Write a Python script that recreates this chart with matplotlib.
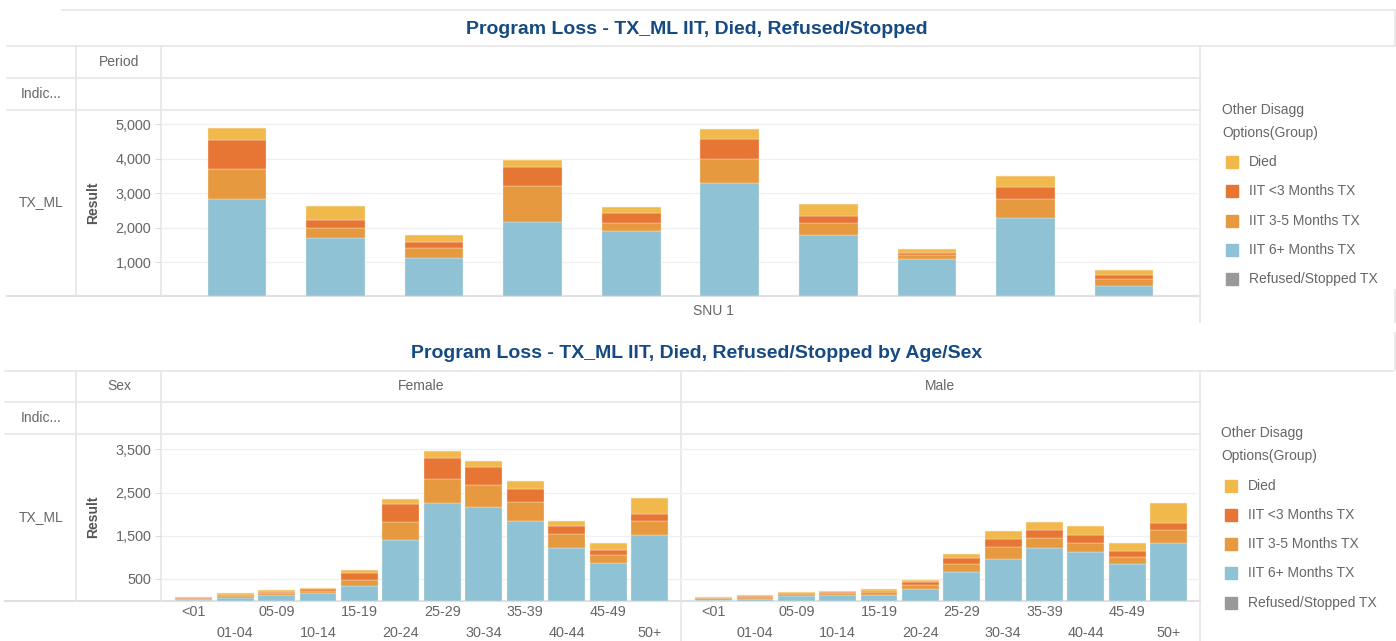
import matplotlib
matplotlib.use("Agg")
import matplotlib.pyplot as plt
from matplotlib.lines import Line2D
import numpy as np

plt.rcParams['font.family'] = ['Liberation Sans', 'DejaVu Sans']

# ---------------- data ----------------
series_names = ["Died", "IIT <3 Months TX", "IIT 3-5 Months TX", "IIT 6+ Months TX", "Refused/Stopped TX"]
series_colors = ["#F1B94B", "#E77635", "#E6993E", "#90C2D5", "#999999"]

# top chart: 10 periods (labels hidden in the original)
periods = list(range(1, 11))
top_6plus = [2824, 1700, 1115, 2163, 1892, 3298, 1776, 1077, 2290, 300]
top_3to5 = [870, 280, 282, 1059, 242, 690, 349, 126, 543, 195]
top_lt3 = [860, 235, 195, 553, 282, 592, 204, 69, 350, 116]
top_died = [340, 425, 193, 184, 184, 282, 349, 116, 310, 155]
top_refused = [0] * 10
top_yticks = [1000, 2000, 3000, 4000, 5000]

# bottom chart: age groups by sex
age_groups = ["<01", "01-04", "05-09", "10-14", "15-19", "20-24",
              "25-29", "30-34", "35-39", "40-44", "45-49", "50+"]
f_6plus = [10, 50, 120, 166, 342, 1389, 2250, 2158, 1850, 1204, 865, 1512]
f_3to5 = [35, 50, 55, 65, 131, 430, 554, 523, 431, 338, 185, 338]
f_lt3 = [10, 35, 30, 30, 154, 415, 500, 407, 308, 185, 123, 154]
f_died = [25, 30, 30, 35, 69, 108, 146, 147, 184, 123, 154, 369]
f_refused = [0] * 12
m_6plus = [10, 35, 104, 134, 134, 258, 650, 958, 1204, 1112, 835, 1327]
m_3to5 = [40, 55, 45, 40, 60, 100, 192, 277, 246, 215, 169, 300]
m_lt3 = [5, 10, 15, 20, 30, 61, 139, 184, 185, 185, 138, 178]
m_died = [25, 35, 32, 32, 34, 62, 107, 185, 192, 223, 193, 453]
m_refused = [0] * 12
bottom_yticks = [500, 1500, 2500, 3500]

title_top = "Program Loss - TX_ML IIT, Died, Refused/Stopped"
title_bottom = "Program Loss - TX_ML IIT, Died, Refused/Stopped by Age/Sex"

# ---------------- layout helpers ----------------
W, H = 1396, 641
fig = plt.figure(figsize=(W / 100, H / 100), dpi=100)
fig.patch.set_facecolor("white")

def fx(x):
    return x / W

def fy(y):
    return 1 - y / H

def hline(y, x0, x1, color="#E6E6E6", lw=1.2):
    fig.add_artist(Line2D([fx(x0), fx(x1)], [fy(y), fy(y)], color=color, lw=lw,
                          transform=fig.transFigure, zorder=0))

def vline(x, y0, y1, color="#E6E6E6", lw=1.2):
    fig.add_artist(Line2D([fx(x), fx(x)], [fy(y0), fy(y1)], color=color, lw=lw,
                          transform=fig.transFigure, zorder=0))

def add_ax(x0, y0, x1, y1):
    return fig.add_axes([fx(x0), fy(y1), fx(x1) - fx(x0), (y1 - y0) / H])

TXT = "#666666"
TITLE_C = "#154B82"

def txt(x, y, s, **kw):
    d = dict(fontsize=10, color=TXT, va="center", ha="left")
    d.update(kw)
    fig.text(fx(x), fy(y), s, **d)

def stack(ax, x, layers, width):
    bottom = np.zeros(len(x))
    for vals, col in layers:
        vals = np.asarray(vals, dtype=float)
        ax.bar(x, vals, width=width, bottom=bottom, color=col,
               edgecolor="#FBEFE0", linewidth=0.25, zorder=3)
        bottom += vals

def style_pane(ax, ymax, yticks, show_labels=True):
    ax.set_ylim(0, ymax)
    ax.set_yticks(yticks)
    if show_labels:
        ax.set_yticklabels([f"{v:,}" for v in yticks], fontsize=10.4, color=TXT)
        ax.tick_params(axis="y", length=4, color="#DDDDDD", pad=3)
    else:
        ax.set_yticklabels([])
        ax.tick_params(axis="y", length=0)
    ax.grid(axis="y", color="#F0F0F0", lw=1, zorder=0)
    for s in ax.spines.values():
        s.set_visible(False)
    ax.set_facecolor("none")

def legend(x, y_title, y_first, step):
    txt(x - 2, y_title, "Other Disagg", fontsize=10)
    txt(x - 2, y_title + 22.5, "Options(Group)", fontsize=10)
    for i, (n, c) in enumerate(zip(series_names, series_colors)):
        yy = y_first + i * step
        fig.add_artist(plt.Rectangle((fx(x + 2), fy(yy + 6)), 12 / W, 12 / H,
                                     color=c, transform=fig.transFigure))
        txt(x + 25, yy, n, fontsize=10)

# ---------------- top sheet ----------------
hline(9.5, 62, 1395)
vline(1395, 9.5, 45)
hline(45.5, 7, 1395)
hline(78, 7, 1200)
hline(110, 7, 1200)
hline(296.5, 7, 1200, color="#E0E0E0", lw=1.5)
vline(76, 45.5, 296.5)
vline(161, 45.5, 296.5)
vline(1200, 45.5, 322)
vline(1395, 290, 322)
fig.text(fx(697), fy(29.5), title_top, fontsize=14, fontweight="bold",
         color=TITLE_C, ha="center", va="center")
txt(119, 61.5, "Period", ha="center")
txt(41, 94, "Indic...", ha="center")
txt(41, 202, "TX_ML", ha="center")
fig.text(fx(93), fy(203), "Result", rotation=90, fontsize=10, fontweight="bold",
         color="#555555", ha="center", va="center")

ax_top = add_ax(161, 110, 1200, 296.5)
xt = np.arange(len(periods))
stack(ax_top, xt, [(top_6plus, series_colors[3]), (top_3to5, series_colors[2]),
                   (top_lt3, series_colors[1]), (top_died, series_colors[0]),
                   (top_refused, series_colors[4])], 0.595)
ax_top.set_xlim(-0.77, len(periods) - 1 + 0.77)
ax_top.set_xticks([])
style_pane(ax_top, 5420, top_yticks)
txt(713, 311, "SNU 1", ha="center")
legend(1224, 110, 162, 29.3)

# ---------------- bottom sheet ----------------
vline(1395, 333, 370)
hline(370.5, 5, 1393)
hline(401.5, 5, 1200)
hline(433.5, 5, 1200)
hline(600.5, 5, 1200, color="#E0E0E0", lw=1.5)
vline(76, 370.5, 600.5)
vline(161, 370.5, 600.5)
vline(681, 370.5, 641)
vline(1200, 370.5, 641)
fig.text(fx(697), fy(353.5), title_bottom, fontsize=14, fontweight="bold",
         color=TITLE_C, ha="center", va="center")
txt(119, 385.5, "Sex", ha="center")
txt(421, 385.5, "Female", ha="center")
txt(940, 385.5, "Male", ha="center")
txt(41, 418, "Indic...", ha="center")
txt(41, 517, "TX_ML", ha="center")
fig.text(fx(93), fy(517), "Result", rotation=90, fontsize=10, fontweight="bold",
         color="#555555", ha="center", va="center")

xa = np.arange(len(age_groups))
panes = [(161, 681, [f_6plus, f_3to5, f_lt3, f_died, f_refused], True),
         (681, 1200, [m_6plus, m_3to5, m_lt3, m_died, m_refused], False)]
for x0, x1, vals, lab in panes:
    ax = add_ax(x0, 433.5, x1, 600.5)
    stack(ax, xa, [(vals[0], series_colors[3]), (vals[1], series_colors[2]),
                   (vals[2], series_colors[1]), (vals[3], series_colors[0]),
                   (vals[4], series_colors[4])], 0.89)
    ax.set_xlim(-0.79, len(age_groups) - 1 + 0.76)
    style_pane(ax, 3866, bottom_yticks, show_labels=lab)
    ax.set_xticks(xa[::2])
    ax.set_xticklabels(age_groups[::2], fontsize=10.4, color=TXT)
    ax.set_xticks(xa[1::2], minor=True)
    ax.set_xticklabels(age_groups[1::2], minor=True, fontsize=10.4, color=TXT)
    ax.tick_params(axis="x", which="major", length=0, pad=3.2)
    ax.tick_params(axis="x", which="minor", length=0, pad=18.2)
legend(1223, 433.5, 485.5, 29.3)

fig.savefig("out.png", dpi=100, facecolor="white")
